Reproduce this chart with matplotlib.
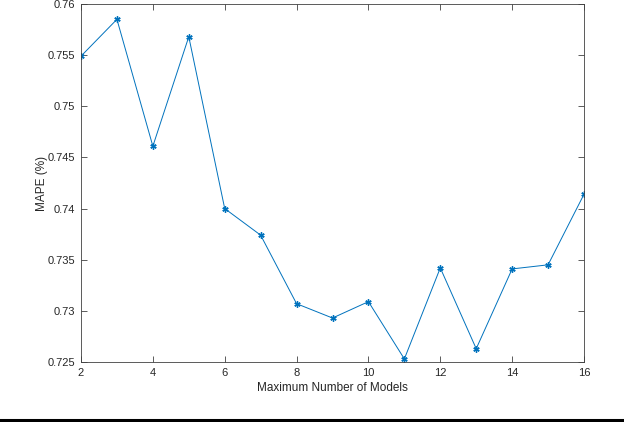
import matplotlib
matplotlib.use("Agg")
import matplotlib.pyplot as plt
from matplotlib.ticker import FuncFormatter
from matplotlib.lines import Line2D

models = [2, 3, 4, 5, 6, 7, 8, 9, 10, 11, 12, 13, 14, 15, 16]
mape = [0.7549, 0.7585, 0.7461, 0.7568, 0.7400, 0.7374, 0.7307, 0.7293, 0.7309,
        0.7253, 0.7342, 0.7263, 0.7341, 0.7345, 0.7414]
xticks = [2, 4, 6, 8, 10, 12, 14, 16]
yticks = [0.725, 0.73, 0.735, 0.74, 0.745, 0.75, 0.755, 0.76]

plt.rcParams['font.family'] = ['Liberation Sans', 'DejaVu Sans']
fig = plt.figure(figsize=(6.24, 4.22), dpi=100)
ax = fig.add_axes([81/624, 1-362/422, (584-81)/624, (362-4)/422])
ax.plot(models, mape, color='#0072BD', lw=0.7, marker=(6, 2, 0), markersize=4.5,
        markeredgewidth=1.0)
ax.set_xlim(2, 16)
ax.set_ylim(0.725, 0.76)
ax.set_xticks(xticks)
ax.set_yticks(yticks)
ax.yaxis.set_major_formatter(FuncFormatter(lambda v, p: '%g' % round(v, 4)))
axcol = '#262626'
for s in ax.spines.values():
    s.set_color('#404040')
    s.set_linewidth(0.6)
ax.tick_params(direction='in', length=4, width=0.6, colors='#404040', labelcolor=axcol,
               labelsize=8, top=True, right=True, pad=4)
ax.set_xlabel('Maximum Number of Models', fontsize=8.5, color=axcol, labelpad=3)
ax.set_ylabel('MAPE (%)', fontsize=8.5, color=axcol, labelpad=0)
fig.add_artist(Line2D([0, 1], [1-419.5/422, 1-419.5/422], color='black', lw=2.2,
                      transform=fig.transFigure))
fig.savefig('out.png', dpi=100)
